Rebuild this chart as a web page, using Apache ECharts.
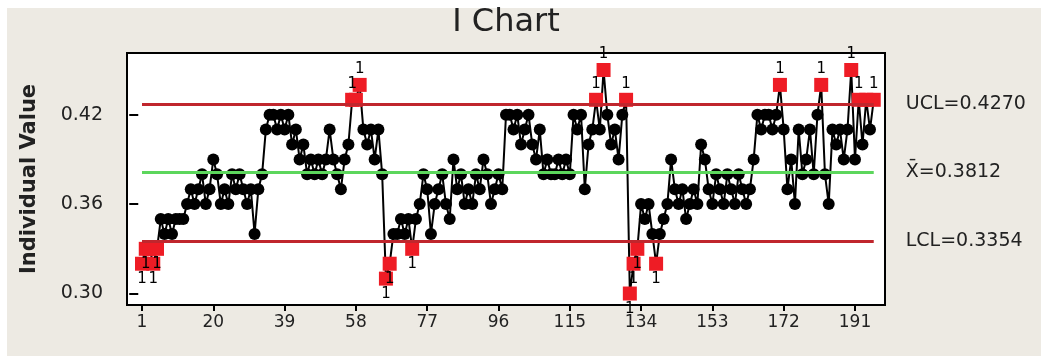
<!DOCTYPE html>
<html>
<head>
<meta charset="utf-8">
<title>I Chart</title>
<script src="https://cdn.jsdelivr.net/npm/echarts@6/dist/echarts.min.js"></script>
<style>
  html, body { margin: 0; padding: 0; background: #fff; }
  #chart { width: 1041px; height: 356px; }
</style>
</head>
<body>
<div id="chart"></div>
<script>
// control limits
const UCL = 0.4270
const CENTER = 0.3812
const LCL = 0.3354

const values = [
  0.32, 0.33, 0.33, 0.32, 0.33, 0.35, 0.34, 0.35, 0.34, 0.35,
  0.35, 0.35, 0.36, 0.37, 0.36, 0.37, 0.38, 0.36, 0.37, 0.39,
  0.38, 0.36, 0.37, 0.36, 0.38, 0.37, 0.38, 0.37, 0.36, 0.37,
  0.34, 0.37, 0.38, 0.41, 0.42, 0.42, 0.41, 0.42, 0.41, 0.42,
  0.40, 0.41, 0.39, 0.40, 0.38, 0.39, 0.38, 0.39, 0.38, 0.39,
  0.41, 0.39, 0.38, 0.37, 0.39, 0.40, 0.43, 0.43, 0.44, 0.41,
  0.40, 0.41, 0.39, 0.41, 0.38, 0.31, 0.32, 0.34, 0.34, 0.35,
  0.34, 0.35, 0.33, 0.35, 0.36, 0.38, 0.37, 0.34, 0.36, 0.37,
  0.38, 0.36, 0.35, 0.39, 0.37, 0.38, 0.36, 0.37, 0.36, 0.38,
  0.37, 0.39, 0.38, 0.36, 0.37, 0.38, 0.37, 0.42, 0.42, 0.41,
  0.42, 0.40, 0.41, 0.42, 0.40, 0.39, 0.41, 0.38, 0.39, 0.38,
  0.38, 0.39, 0.38, 0.39, 0.38, 0.42, 0.41, 0.42, 0.37, 0.40,
  0.41, 0.43, 0.41, 0.45, 0.42, 0.40, 0.41, 0.39, 0.42, 0.43,
  0.30, 0.32, 0.33, 0.36, 0.35, 0.36, 0.34, 0.32, 0.34, 0.35,
  0.36, 0.39, 0.37, 0.36, 0.37, 0.35, 0.36, 0.37, 0.36, 0.40,
  0.39, 0.37, 0.36, 0.38, 0.37, 0.36, 0.38, 0.37, 0.36, 0.38,
  0.37, 0.36, 0.37, 0.39, 0.42, 0.41, 0.42, 0.42, 0.41, 0.42,
  0.44, 0.41, 0.37, 0.39, 0.36, 0.41, 0.38, 0.39, 0.41, 0.38,
  0.42, 0.44, 0.38, 0.36, 0.41, 0.40, 0.41, 0.39, 0.41, 0.45,
  0.39, 0.43, 0.40, 0.43, 0.41, 0.43
]
const xTicks = [1, 20, 39, 58, 77, 96, 115, 134, 153, 172, 191]
const yTicks = [0.30, 0.36, 0.42]

const FONT = 'DejaVu Sans'
const N = values.length

const points = values.map((v, i) => {
  const out = v > UCL || v < LCL
  return {
    value: [i + 1, v],
    symbol: out ? 'rect' : 'circle',
    symbolSize: out ? 14 : 12,
    itemStyle: { color: out ? '#ee1c25' : '#000' },
    label: {
      show: out,
      formatter: '1',
      position: v > UCL ? 'top' : 'bottom',
      distance: 1,
      fontFamily: FONT,
      fontSize: 15,
      color: '#000'
    }
  }
})

const limitLine = (y, color, text) => [
  {
    coord: [1, y],
    lineStyle: { color: color, width: 3, type: 'solid' },
    label: {
      show: true,
      position: 'end',
      distance: 32,
      formatter: text,
      fontFamily: FONT,
      fontSize: 19,
      color: '#222'
    }
  },
  { coord: [N, y] }
]

const chart = echarts.init(document.getElementById('chart'))
chart.setOption({
  backgroundColor: '#fff',
  animation: false,
  graphic: [
    {
      type: 'rect',
      z: -10,
      shape: { x: 7, y: 8, width: 1041, height: 356 },
      style: { fill: '#edeae3' }
    },
    {
      type: 'text',
      x: 506,
      y: 23,
      style: {
        text: 'I Chart',
        align: 'center',
        verticalAlign: 'middle',
        fontFamily: FONT,
        fontSize: 32,
        fill: '#222'
      }
    }
  ],
  grid: {
    left: 127,
    top: 53,
    width: 758,
    height: 252,
    show: true,
    backgroundColor: '#fff',
    borderColor: '#000',
    borderWidth: 2
  },
  xAxis: {
    type: 'value',
    min: -3,
    max: 199,
    splitLine: { show: false },
    axisLine: { show: false },
    axisTick: {
      show: true,
      customValues: xTicks,
      length: 6,
      lineStyle: { color: '#000', width: 2 }
    },
    axisLabel: {
      customValues: xTicks,
      margin: 9,
      fontFamily: FONT,
      fontSize: 17,
      color: '#222'
    }
  },
  yAxis: {
    type: 'value',
    min: 0.2923,
    max: 0.4614,
    name: 'Individual Value',
    nameLocation: 'middle',
    nameRotate: 90,
    nameGap: 87,
    nameTextStyle: {
      fontFamily: FONT,
      fontWeight: 'bold',
      fontSize: 21,
      color: '#222'
    },
    splitLine: { show: false },
    axisLine: { show: false },
    axisTick: {
      show: true,
      customValues: yTicks,
      length: 9,
      lineStyle: { color: '#000', width: 2 }
    },
    axisLabel: {
      customValues: yTicks,
      margin: 24,
      formatter: v => v.toFixed(2),
      fontFamily: FONT,
      fontSize: 19,
      color: '#222'
    }
  },
  series: [
    {
      type: 'line',
      data: [],
      z: 1,
      markLine: {
        silent: true,
        symbol: 'none',
        animation: false,
        data: [
          limitLine(UCL, '#c0262d', 'UCL=' + UCL.toFixed(4)),
          limitLine(CENTER, '#5cd65c', 'X\u0304=' + CENTER.toFixed(4)),
          limitLine(LCL, '#c0262d', 'LCL=' + LCL.toFixed(4))
        ]
      }
    },
    {
      type: 'line',
      z: 2,
      data: points,
      showAllSymbol: true,
      lineStyle: { color: '#000', width: 2 },
      labelLayout: { hideOverlap: true }
    }
  ]
})
</script>
</body>
</html>
